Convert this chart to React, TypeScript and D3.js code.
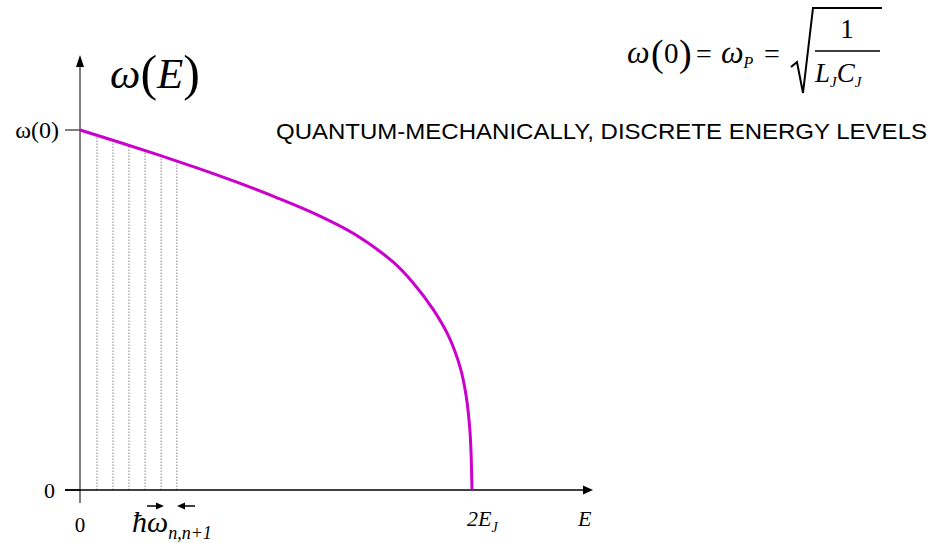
import React from "react";
import * as d3 from "d3";

// ω(E) for the Josephson junction: energy E in units of 2E_J, frequency in units of ω(0)
const energy = [0, 0.1, 0.2, 0.3, 0.4, 0.5, 0.6, 0.7, 0.8, 0.85, 0.9, 0.94, 0.97, 0.985, 0.995, 1.0];
const omega = [1, 0.966, 0.931, 0.894, 0.855, 0.813, 0.767, 0.711, 0.632, 0.575, 0.503, 0.428, 0.34, 0.262, 0.16, 0];

// discrete energy levels near the bottom of the well
const levels = [0.0434, 0.0842, 0.125, 0.166, 0.207, 0.247];

const yTickLabels = ["0", "ω(0)"];
const yTickValues = [0, 1];

const W = 937;
const H = 543;
const SERIF = "'Liberation Serif', 'Times New Roman', serif";
const SANS = "'Liberation Sans', Arial, sans-serif";

export default function App() {
  const x = d3.scaleLinear().domain([0, 1]).range([80, 472]);
  const y = d3.scaleLinear().domain([0, 1]).range([490, 130]);

  const pts: [number, number][] = energy.map((e, i) => [e, omega[i]]);
  const line = d3
    .line<[number, number]>()
    .x((d) => x(d[0]))
    .y((d) => y(d[1]))
    .curve(d3.curveCatmullRom.alpha(0.5));

  // height of the curve at a given energy (linear between read points)
  const omegaAt = (e: number) => {
    const i = Math.max(1, d3.bisectLeft(energy, e));
    const t = (e - energy[i - 1]) / (energy[i] - energy[i - 1]);
    return omega[i - 1] + t * (omega[i] - omega[i - 1]);
  };

  const x0 = x(0);
  const yBase = y(0);

  return (
    <div style={{ position: "absolute", left: 0, top: 0 }}>
      <svg width={W} height={H} viewBox={`0 0 ${W} ${H}`} style={{ display: "block", background: "#fff" }}>
        {/* energy level markers */}
        {levels.map((e, i) => (
          <line
            key={i}
            x1={x(e)}
            x2={x(e)}
            y1={yBase}
            y2={y(omegaAt(e))}
            stroke="#999"
            strokeWidth={1.2}
            strokeDasharray="1.5 1.5"
          />
        ))}

        {/* y axis */}
        <line x1={x0} x2={x0} y1={503} y2={62} stroke="#7f7f7f" strokeWidth={2} />
        <path d={`M${x0},55 L${x0 - 4},67 L${x0 + 4},67 Z`} fill="#000" />
        {/* y ticks */}
        {yTickValues.map((v, i) => (
          <g key={i}>
            <line x1={65} x2={x0} y1={y(v)} y2={y(v)} stroke={v === 0 ? "#000" : "#555"} strokeWidth={1.5} />
            <text
              x={v === 0 ? 55 : 59}
              y={y(v) + 8}
              textAnchor="end"
              fontFamily={SERIF}
              fontSize={v === 0 ? 22 : 24}
              fill="#000"
            >
              {yTickLabels[i]}
            </text>
          </g>
        ))}

        {/* x axis */}
        <line x1={65} x2={585} y1={yBase} y2={yBase} stroke="#000" strokeWidth={1.5} />
        <path d={`M593,${yBase} L583,${yBase - 4.5} L583,${yBase + 4.5} Z`} fill="#000" />

        {/* curve */}
        <path d={line(pts) || ""} fill="none" stroke="#cc00cc" strokeWidth={3} />

        {/* x labels */}
        <text x={x(0)} y={532} textAnchor="middle" fontFamily={SERIF} fontSize={21}>
          0
        </text>
        <text x={467} y={526} fontFamily={SERIF} fontSize={22} fontStyle="italic">
          2E
          <tspan fontSize={14} dy={6}>
            J
          </tspan>
        </text>
        <text x={578} y={526} fontFamily={SERIF} fontSize={22} fontStyle="italic">
          E
        </text>

        {/* level spacing label */}
        <text x={132} y={532} fontFamily={SERIF} fontSize={30} fontStyle="italic">
          ħω
          <tspan fontSize={18} dy={7}>
            n,n+1
          </tspan>
        </text>
        <g stroke="#000" strokeWidth={1.5}>
          <line x1={147} x2={158} y1={506} y2={506} />
          <line x1={182} x2={195} y1={506} y2={506} />
        </g>
        <path d="M164,506 L156,502.5 L156,509.5 Z" fill="#000" />
        <path d="M177,506 L185,502.5 L185,509.5 Z" fill="#000" />

        {/* axis title */}
        <text x={110} y={88} fontFamily={SERIF} fontSize={43}>
          <tspan fontStyle="italic">ω</tspan>
          <tspan fontSize={50} dy={2}>(</tspan>
          <tspan fontStyle="italic" dy={-2}>E</tspan>
          <tspan fontSize={50} dy={2}>)</tspan>
        </text>

        {/* note */}
        <text x={276} y={139} fontFamily={SANS} fontSize={22} textLength={651} lengthAdjust="spacingAndGlyphs">
          QUANTUM-MECHANICALLY, DISCRETE ENERGY LEVELS
        </text>

        {/* plasma frequency formula */}
        <g fontFamily={SERIF} fill="#000">
          <text x={627} y={63} fontSize={32} fontStyle="italic">ω</text>
          <text x={651} y={66} fontSize={38}>(</text>
          <text x={664} y={63} fontSize={29}>0</text>
          <text x={679} y={66} fontSize={38}>)</text>
          <text x={696} y={63} fontSize={28}>=</text>
          <text x={721} y={63} fontSize={32} fontStyle="italic">
            ω<tspan fontSize={16} dy={5}>P</tspan>
          </text>
          <text x={764} y={63} fontSize={28}>=</text>
          <path d="M791,67 L797,62 L803,93 L813,8 L882,8" fill="none" stroke="#000" strokeWidth={2} />
          <text x={847} y={38} fontSize={27} textAnchor="middle">1</text>
          <line x1={815} x2={880} y1={51} y2={51} stroke="#000" strokeWidth={1.5} />
          <text x={815} y={82} fontSize={27} fontStyle="italic">
            L<tspan fontSize={15} dy={5}>J</tspan>
            <tspan dy={-5}>C</tspan>
            <tspan fontSize={15} dy={5}>J</tspan>
          </text>
        </g>
      </svg>
    </div>
  );
}
